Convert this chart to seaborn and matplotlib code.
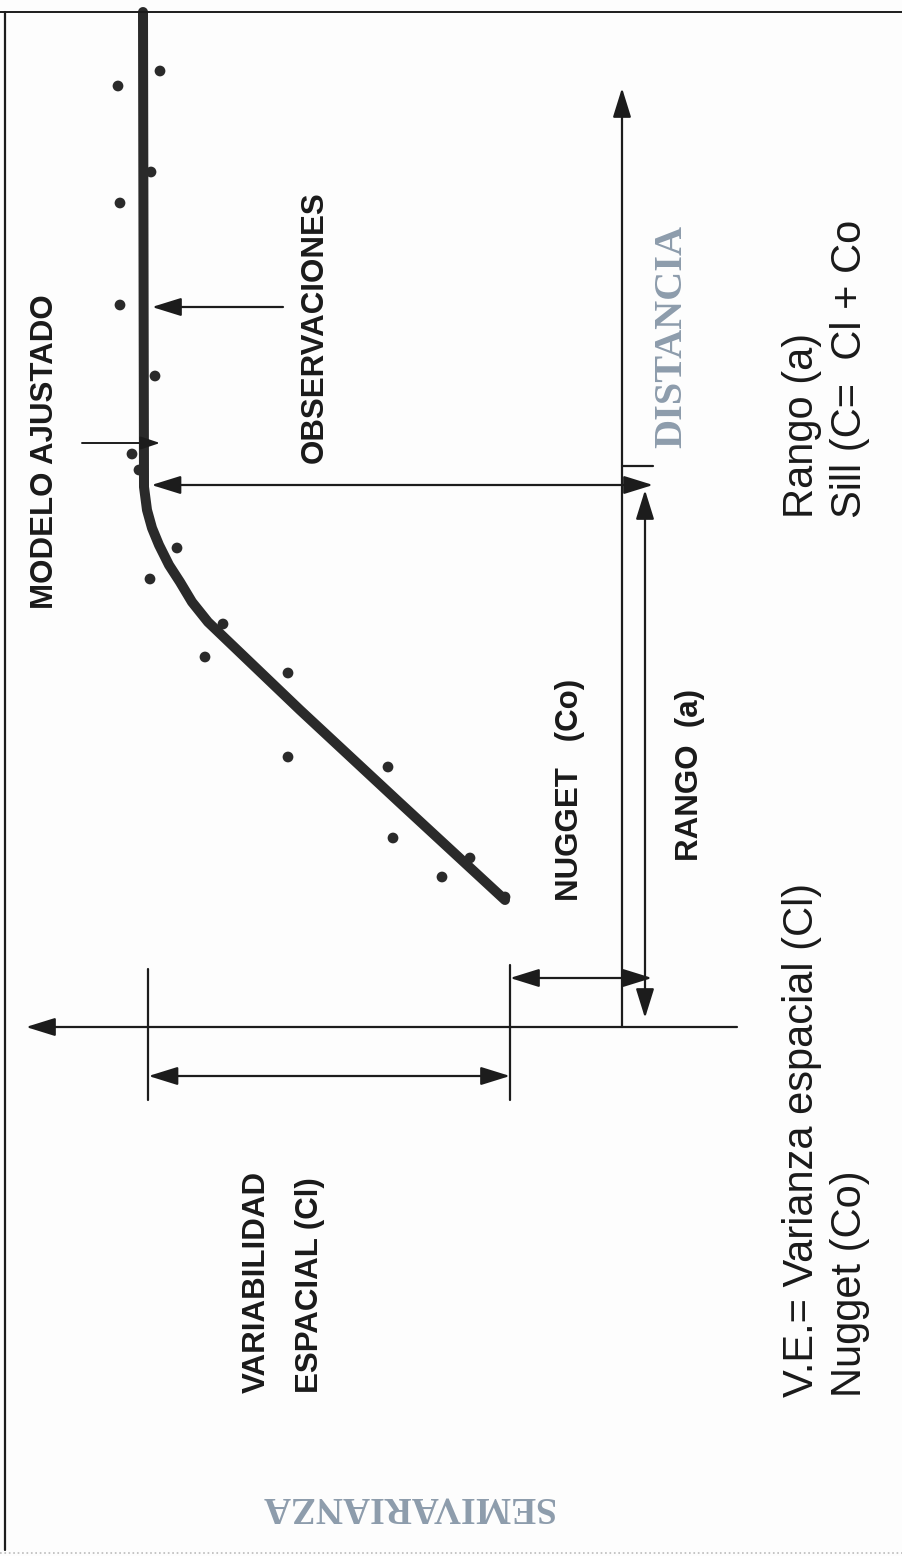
import numpy as np
import pandas as pd
import matplotlib
matplotlib.use("Agg")
import matplotlib.pyplot as plt
import seaborn as sns

# ---------------- data (semivariogram, figure drawn rotated 90 deg) ----------------
model_semiv = [1.17, 2.22, 3.22, 4.14, 4.30, 4.42, 4.53, 4.63, 4.70, 4.75, 4.78, 4.79]
model_dist = [1.27, 2.24, 3.17, 4.05, 4.25, 4.45, 4.62, 4.82, 4.99, 5.17, 5.40, 10.15]

obs_semiv = [1.17, 1.52, 1.80, 2.29, 2.34, 3.34, 3.34, 4.17, 3.99, 4.45,
             4.72, 4.83, 4.90, 4.67, 5.02, 5.02, 4.71, 5.04, 4.62]
obs_dist = [1.30, 1.69, 1.50, 1.89, 2.60, 2.70, 3.54, 3.70, 4.03, 4.79,
            4.48, 5.57, 5.73, 6.51, 7.22, 8.24, 8.55, 9.41, 9.56]

nugget = 1.12   # Co
sill = 4.735    # C = Cl + Co
rango = 5.42    # a

model_df = pd.DataFrame({"semivarianza": model_semiv, "distancia": model_dist})
obs_df = pd.DataFrame({"semivarianza": obs_semiv, "distancia": obs_dist})

# ---------------- figure ----------------
sns.set_theme(style="white")
plt.rcParams["font.family"] = ["Liberation Sans", "DejaVu Sans"]

fig = plt.figure(figsize=(9.03, 15.56), dpi=100)
fig.patch.set_facecolor("#fdfdfd")
ax = fig.add_axes([0, 0, 1, 1])
ax.set_facecolor("#fdfdfd")

INK = "#1c1c1c"

sns.lineplot(data=model_df, x="semivarianza", y="distancia", sort=False,
             estimator=None, color="#2a2a2a", linewidth=7.2,
             solid_capstyle="round", solid_joinstyle="round", ax=ax, legend=False)
sns.scatterplot(data=obs_df, x="semivarianza", y="distancia", color="#2a2a2a",
                s=60, edgecolor="none", ax=ax, legend=False, zorder=3)

ax.set_xlim(6.22, -2.81)
ax.set_ylim(-5.29, 10.27)
ax.axis("off")


def arrow(x1, y1, x2, y2, style="-|>", lw=1.6):
    ax.annotate("", xy=(x2, y2), xytext=(x1, y1),
                arrowprops=dict(arrowstyle=f"{style},head_length=0.9,head_width=0.28",
                                color=INK, lw=lw, shrinkA=0, shrinkB=0,
                                mutation_scale=20))


# axes of the semivariogram
arrow(0, 0, 0, 9.39)            # distance axis
arrow(-1.15, 0, 5.96, 0)        # semivariance axis

# spatial variability marks
ax.plot([nugget, nugget], [0.62, -0.73], color=INK, lw=1.6)
ax.plot([sill, sill], [0.58, -0.73], color=INK, lw=1.6)
arrow(nugget, -0.49, sill, -0.49, style="<|-|>")

# nugget
arrow(nugget, 0.49, -0.30, 0.49, style="<|-|>")

# range
arrow(-0.23, 0.09, -0.23, rango - 0.05, style="<|-|>")
arrow(-0.31, rango, sill - 0.03, rango, style="<|-|>")
ax.plot([0, -0.31], [rango + 0.19, rango + 0.19], color=INK, lw=1.6)

# pointers
arrow(3.39, 7.20, 4.70, 7.20)                 # observaciones
ax.annotate("", xy=(4.62, 5.84), xytext=(5.40, 5.84),
            arrowprops=dict(arrowstyle="-|>,head_length=0.6,head_width=0.2",
                            color=INK, lw=1.4, shrinkA=0, shrinkB=0,
                            mutation_scale=20))

# frame
ax.plot([6.17, 6.17], [-5.23, 10.15], color=INK, lw=1.6)
ax.plot([6.22, -2.81], [10.15, 10.15], color=INK, lw=1.4)
ax.plot([6.22, -2.81], [-5.26, -5.26], color="#bbbbbb", lw=1.2, ls=":")

# ---------------- texts ----------------
bold = dict(family=["Liberation Sans", "DejaVu Sans"], fontweight="bold",
            fontsize=22.5, color="#1a1a1a")
ax.text(5.77, 5.75, "MODELO AJUSTADO", rotation=90, ha="center", va="center", **bold)
ax.text(3.07, 7.00, "OBSERVACIONES", rotation=90, ha="center", va="center", **bold)
ax.text(0.52, 2.37, "NUGGET   (Co)", rotation=90, ha="center", va="center", **bold)
ax.text(-0.68, 2.52, "RANGO  (a)", rotation=90, ha="center", va="center", **bold)
ax.text(3.385, -3.66, "VARIABILIDAD\nESPACIAL (Cl)", rotation=90, ha="center",
        va="bottom", multialignment="left", linespacing=2.0, **bold)

serif = dict(family=["Liberation Serif", "DejaVu Serif"], fontweight="bold",
             color="#8d9cac")
ax.text(-0.50, 6.90, "DISTANCIA", rotation=90, ha="center", va="center",
        fontsize=29, **serif)
ax.text(2.15, -4.80, "SEMIVARIANZA", rotation=180, ha="center", va="center",
        fontsize=27, **serif)

reg = dict(family=["Liberation Sans", "DejaVu Sans"], fontsize=30, color="#1a1a1a")
ax.text(-2.04, -3.70, "V.E.= Varianza espacial (Cl)\nNugget (Co)", rotation=90,
        ha="center", va="bottom", multialignment="left", linespacing=1.25, **reg)
ax.text(-2.04, 5.09, "Rango (a)\nSill (C=  Cl + Co", rotation=90,
        ha="center", va="bottom", multialignment="left", linespacing=1.25, **reg)

fig.savefig("out.png", dpi=100, facecolor=fig.get_facecolor())
